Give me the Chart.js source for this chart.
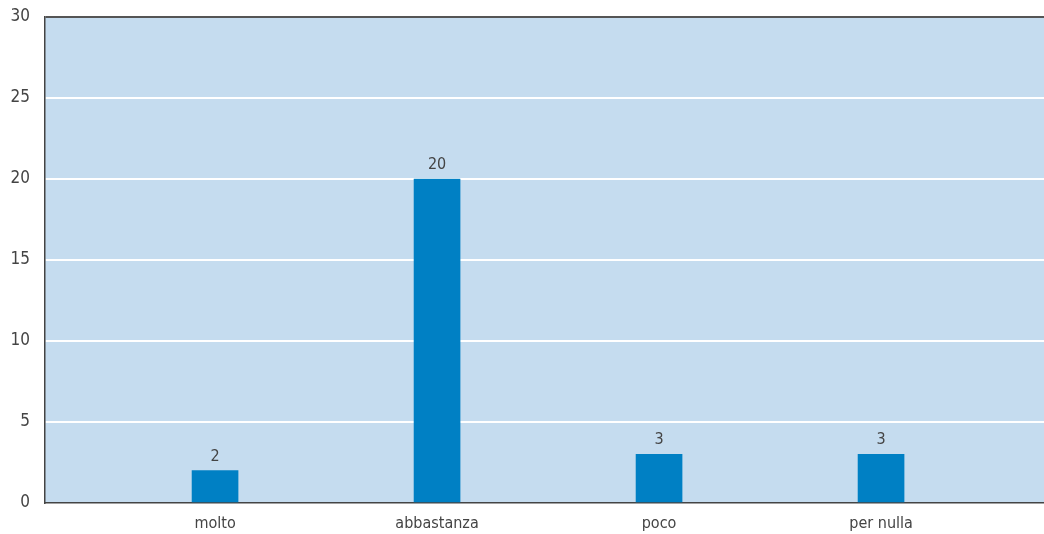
<!DOCTYPE html>
<html>
<head>
<meta charset="utf-8">
<script src="https://cdn.jsdelivr.net/npm/chart.js@4"></script>
<style>
  html, body { margin: 0; padding: 0; background: #fff; }
  #wrap { width: 1044px; height: 534px; }
</style>
</head>
<body>
<div id="wrap"><canvas id="chart"></canvas></div>
<script>
// Answers and counts
const categories = ['molto', 'abbastanza', 'poco', 'per nulla'];
const counts = [2, 20, 3, 3];
const yTicks = [0, 5, 10, 15, 20, 25, 30];

const FONT = '"Liberation Sans Narrow", "DejaVu Sans Condensed", sans-serif';
const TEXT = '#444444';

// fill the plot area in light blue before anything else is drawn
const plotBackground = {
    id: 'plotBackground',
    beforeDraw(chart) {
        const { ctx, chartArea: a } = chart;
        ctx.save();
        ctx.fillStyle = '#c5dcef';
        ctx.fillRect(a.left, a.top, a.right - a.left, a.bottom - a.top);
        ctx.restore();
    }
};

// value labels above each bar
const valueLabels = {
    id: 'valueLabels',
    afterDatasetsDraw(chart) {
        const { ctx } = chart;
        const meta = chart.getDatasetMeta(0);
        ctx.save();
        ctx.font = '16px ' + FONT;
        ctx.fillStyle = TEXT;
        ctx.textAlign = 'center';
        ctx.textBaseline = 'alphabetic';
        meta.data.forEach((bar, i) => {
            ctx.fillText(String(counts[i]), bar.x, bar.y - 10);
        });
        ctx.restore();
    }
};

const points = categories.map((c, i) => ({ x: i + 1, y: counts[i] }));

new Chart(document.getElementById('chart'), {
    type: 'bar',
    data: {
        datasets: [{
            data: points,
            backgroundColor: '#0080c4',
            borderWidth: 0,
            barThickness: 46
        }]
    },
    options: {
        responsive: true,
        maintainAspectRatio: false,
        animation: false,
        layout: { padding: { top: 17, right: 0, left: 0, bottom: 0 } },
        plugins: {
            legend: { display: false },
            tooltip: { enabled: false }
        },
        scales: {
            x: {
                type: 'linear',
                offset: false,
                min: 0.234,
                max: 4.734,
                afterBuildTicks(scale) {
                    scale.ticks = categories.map((c, i) => ({ value: i + 1 }));
                },
                afterFit(scale) {
                    scale.height = 31;
                    scale.paddingLeft = 0;
                    scale.paddingRight = 0;
                },
                grid: { display: false },
                border: { color: '#444', width: 1.5 },
                ticks: {
                    autoSkip: false,
                    maxRotation: 0,
                    padding: 3,
                    color: TEXT,
                    font: { family: FONT, size: 16 },
                    callback: (v) => categories[v - 1] || ''
                }
            },
            y: {
                min: 0,
                max: 30,
                afterBuildTicks(scale) {
                    scale.ticks = yTicks.map(v => ({ value: v }));
                },
                afterFit(scale) {
                    scale.width = 45;
                    scale.paddingTop = 0;
                    scale.paddingBottom = 0;
                },
                border: { color: '#444', width: 1.5 },
                grid: {
                    drawTicks: false,
                    lineWidth: 2,
                    color: (c) => c.tick && c.tick.value === 30 ? '#555' : (c.tick && c.tick.value === 0 ? 'rgba(0,0,0,0)' : '#ffffff')
                },
                ticks: {
                    padding: 15,
                    color: TEXT,
                    font: { family: FONT, size: 17 }
                }
            }
        }
    },
    plugins: [plotBackground, valueLabels]
});
</script>
</body>
</html>
